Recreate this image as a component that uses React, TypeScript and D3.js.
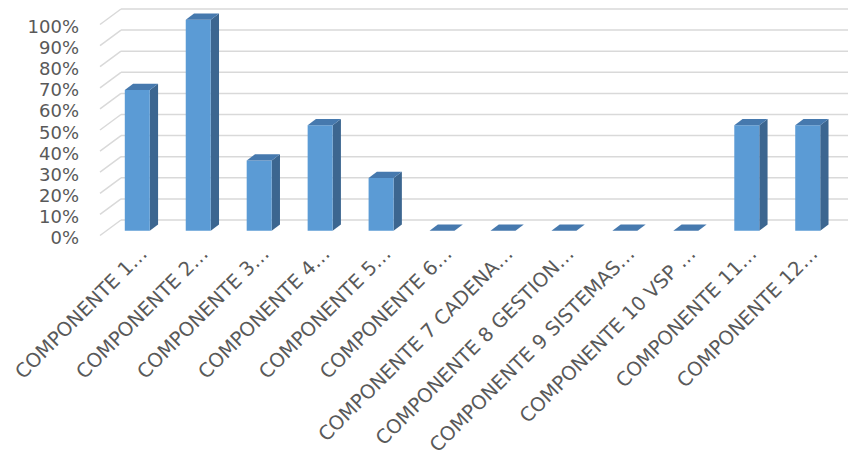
import React from "react";
import * as d3 from "d3";

const categories = [
  "COMPONENTE 1…",
  "COMPONENTE 2…",
  "COMPONENTE 3…",
  "COMPONENTE 4…",
  "COMPONENTE 5…",
  "COMPONENTE 6…",
  "COMPONENTE 7 CADENA…",
  "COMPONENTE 8 GESTION…",
  "COMPONENTE 9 SISTEMAS…",
  "COMPONENTE 10 VSP …",
  "COMPONENTE 11…",
  "COMPONENTE 12…",
];
const values = [0.667, 1, 0.333, 0.5, 0.25, 0, 0, 0, 0, 0, 0.5, 0.5];
const yTicks = [0, 0.1, 0.2, 0.3, 0.4, 0.5, 0.6, 0.7, 0.8, 0.9, 1];

const W = 848;
const H = 458;
const DX = 21; // full depth horizontal offset
const DY = 15.5; // full depth vertical offset
const T0 = 0.31; // bar front depth fraction
const T1 = 0.705; // bar back depth fraction

const FRONT = "#5B9BD5";
const SIDE = "#3C6690";
const TOP = "#4679AE";
const GRID = "#D9D9D9";
const TEXT = "#595959";
const FONT = "'DejaVu Sans', sans-serif";

export default function App() {
  const x = d3
    .scaleBand<string>()
    .domain(categories)
    .range([100, 832])
    .paddingInner(0.59)
    .paddingOuter(0.3);
  const y = d3.scaleLinear().domain([0, 1]).range([235.5, 24.5]);
  const bw = x.bandwidth();
  const fmt = d3.format(".0%");

  const P = (px: number, py: number, t: number) => [px + DX * t, py - DY * t];
  const pts = (arr: number[][]) => arr.map((p) => p.join(",")).join(" ");

  return (
    <svg
      width={W}
      height={H}
      style={{ position: "absolute", left: 0, top: 0, background: "#fff" }}
    >
      {yTicks.map((t) => {
        const yf = y(t);
        const [bx, by] = P(100, yf, 1);
        return (
          <g key={"g" + t}>
            <line x1={100} y1={yf} x2={bx} y2={by} stroke={GRID} strokeWidth={1.5} />
            <line x1={bx} y1={by} x2={W + 10} y2={by} stroke={GRID} strokeWidth={1.5} />
          </g>
        );
      })}
      {yTicks.map((t) => (
        <text
          key={"l" + t}
          x={79}
          y={y(t) + 8.5}
          textAnchor="end"
          fontFamily={FONT}
          fontSize={18}
          fill={TEXT}
        >
          {fmt(t)}
        </text>
      ))}
      {categories.map((c, i) => {
        const v = values[i];
        const x0 = x(c)!;
        const x1 = x0 + bw;
        const yb = y(0);
        const yt = y(v);
        const fbl = P(x0, yb, T0);
        const fbr = P(x1, yb, T0);
        const ftl = P(x0, yt, T0);
        const ftr = P(x1, yt, T0);
        const btl = P(x0, yt, T1);
        const btr = P(x1, yt, T1);
        const bbr = P(x1, yb, T1);
        return (
          <g key={"b" + i}>
            {v > 0 && (
              <>
                <polygon points={pts([fbr, ftr, btr, bbr])} fill={SIDE} />
                <polygon points={pts([fbl, fbr, ftr, ftl])} fill={FRONT} />
              </>
            )}
            <polygon points={pts([ftl, ftr, btr, btl])} fill={TOP} />
          </g>
        );
      })}
      {categories.map((c, i) => {
        const lx = x(c)! + bw / 2 + 17.5;
        const ly = 255;
        return (
          <text
            key={"x" + i}
            transform={`translate(${lx},${ly}) rotate(-45)`}
            textAnchor="end"
            fontFamily={FONT}
            fontSize={19.5}
            fill={TEXT}
          >
            {c}
          </text>
        );
      })}
    </svg>
  );
}
